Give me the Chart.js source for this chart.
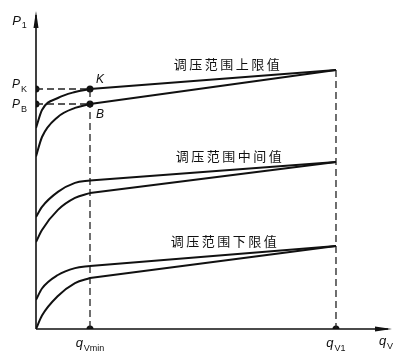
<!DOCTYPE html>
<html>
<head>
<meta charset="utf-8">
<script src="https://cdn.jsdelivr.net/npm/chart.js@4.4.1/dist/chart.umd.min.js"></script>
<style>
body { margin: 0; background: #fff; }
</style>
</head>
<body>
<canvas id="pqChart" width="408" height="360"></canvas>

<script>
// flow points of the rising part, up to q_Vmin
var kneeX = [0, 2, 7.3, 13, 18];
var qVmin = 18;
var qV1 = 100;

// pressure values for each curve (at kneeX)
var upperHigh = [67, 73, 77, 79, 80];
var upperLow = [57.5, 64, 70.7, 73.7, 75];
var middleHigh = [37.3, 40.7, 45.7, 48.7, 49.5];
var middleLow = [29, 33, 39.7, 43.7, 45.3];
var lowerHigh = [9.7, 13.5, 18, 20.3, 21];
var lowerLow = [0, 4.5, 11, 15.3, 17];

// pressure of each pair at q_V1
var endUpper = 86.3;
var endMiddle = 55.7;
var endLower = 27.7;

var pK = 80;
var pB = 75;

var curveLabels = ["调压范围上限值", "调压范围中间值", "调压范围下限值"];
var labelX = [64, 64.7, 63];
var labelY = [88.3, 57.5, 29.2];

function pts(xs, ys) {
	return xs.map(function(x, i) { return {x: x, y: ys[i]}; });
}

var datasets = [];

function addCurve(ys, endY) {
	datasets.push({
		data: pts(kneeX, ys),
		borderColor: "#111",
		borderWidth: 2,
		pointRadius: 0,
		cubicInterpolationMode: "monotone",
		fill: false
	});
	datasets.push({
		data: [{x: qVmin, y: ys[ys.length - 1]}, {x: qV1, y: endY}],
		borderColor: "#111",
		borderWidth: 2,
		pointRadius: 0,
		tension: 0,
		fill: false
	});
}

addCurve(upperHigh, endUpper);
addCurve(upperLow, endUpper);
addCurve(middleHigh, endMiddle);
addCurve(middleLow, endMiddle);
addCurve(lowerHigh, endLower);
addCurve(lowerLow, endLower);

// dashed guides
function addDash(points) {
	datasets.push({
		data: points,
		borderColor: "#222",
		borderWidth: 1.3,
		borderDash: [7, 4],
		pointRadius: 0,
		tension: 0,
		fill: false
	});
}
addDash([{x: 0, y: pK}, {x: qVmin, y: pK}, {x: qVmin, y: 0}]);
addDash([{x: 0, y: pB}, {x: qVmin, y: pB}]);
addDash([{x: qV1, y: endUpper}, {x: qV1, y: 0}]);

// marked points
datasets.push({
	type: "scatter",
	data: [{x: 0, y: pK}, {x: 0, y: pB}, {x: qVmin, y: pK}, {x: qVmin, y: pB},
		{x: qVmin, y: 0}, {x: qV1, y: 0}],
	pointRadius: 3.5,
	pointBackgroundColor: "#111",
	pointBorderWidth: 0,
	showLine: false
});

function drawSub(ctx, main, sub, x, y, size, align) {
	ctx.font = "italic " + size + "px 'Liberation Sans'";
	var w1 = ctx.measureText(main).width;
	ctx.font = Math.round(size * 0.72) + "px 'Liberation Sans'";
	var w2 = ctx.measureText(sub).width;
	var left = x;
	if (align == "center") left = x - (w1 + w2 + 1) / 2;
	if (align == "right") left = x - (w1 + w2 + 1);
	ctx.textAlign = "left";
	ctx.textBaseline = "alphabetic";
	ctx.font = "italic " + size + "px 'Liberation Sans'";
	ctx.fillText(main, left, y);
	ctx.font = Math.round(size * 0.72) + "px 'Liberation Sans'";
	ctx.fillText(sub, left + w1 + 1, y + size * 0.3);
}

var sketchPlugin = {
	id: "sketch",
	afterDraw: function(chart) {
		var ctx = chart.ctx;
		var sx = chart.scales.x, sy = chart.scales.y;
		var X = function(v) { return sx.getPixelForValue(v); };
		var Y = function(v) { return sy.getPixelForValue(v); };
		ctx.save();
		ctx.strokeStyle = "#111";
		ctx.fillStyle = "#111";
		ctx.lineWidth = 1.6;

		// axes
		var x0 = X(0), y0 = Y(0), xEnd = X(sx.max), yEnd = Y(sy.max);
		ctx.beginPath();
		ctx.moveTo(x0, y0);
		ctx.lineTo(xEnd - 4, y0);
		ctx.moveTo(x0, y0);
		ctx.lineTo(x0, yEnd + 4);
		ctx.stroke();
		ctx.beginPath();
		ctx.moveTo(xEnd, y0);
		ctx.lineTo(xEnd - 17, y0 - 2.5);
		ctx.lineTo(xEnd - 17, y0 + 2.5);
		ctx.closePath();
		ctx.fill();
		ctx.beginPath();
		ctx.moveTo(x0, yEnd);
		ctx.lineTo(x0 - 2.5, yEnd + 17);
		ctx.lineTo(x0 + 2.5, yEnd + 17);
		ctx.closePath();
		ctx.fill();

		// axis and point letters
		drawSub(ctx, "P", "1", X(-5.5), Y(101.5), 13, "center");
		drawSub(ctx, "P", "K", X(-3), Y(pK) - 1, 12, "right");
		drawSub(ctx, "P", "B", X(-3), Y(pB) + 4, 12, "right");
		ctx.font = "italic 12px 'Liberation Sans'";
		ctx.textAlign = "left";
		ctx.fillText("K", X(qVmin) + 6, Y(pK) - 6);
		ctx.fillText("B", X(qVmin) + 6, Y(pB) + 14);
		drawSub(ctx, "q", "Vmin", X(qVmin), Y(0) + 18, 13, "center");
		drawSub(ctx, "q", "V1", X(qV1), Y(0) + 18, 13, "center");
		drawSub(ctx, "q", "V", X(sx.max) - 6, Y(0) + 16, 13, "center");

		// curve names
		ctx.font = "13px 'Noto Sans CJK SC'";
		ctx.letterSpacing = "2.5px";
		ctx.textAlign = "center";
		ctx.textBaseline = "middle";
		for (var i = 0; i < curveLabels.length; i++) {
			ctx.fillText(curveLabels[i], X(labelX[i]), Y(labelY[i]));
		}
		ctx.restore();
	}
};

new Chart("pqChart", {
	type: "line",
	data: { datasets: datasets },
	options: {
		responsive: false,
		animation: false,
		layout: { padding: { left: 36, right: 16, top: 11, bottom: 31 } },
		plugins: { legend: { display: false }, tooltip: { enabled: false } },
		scales: {
			x: { type: "linear", min: 0, max: 118.67, display: false },
			y: { type: "linear", min: 0, max: 106, display: false }
		}
	},
	plugins: [sketchPlugin]
});
</script>
</body>
</html>
